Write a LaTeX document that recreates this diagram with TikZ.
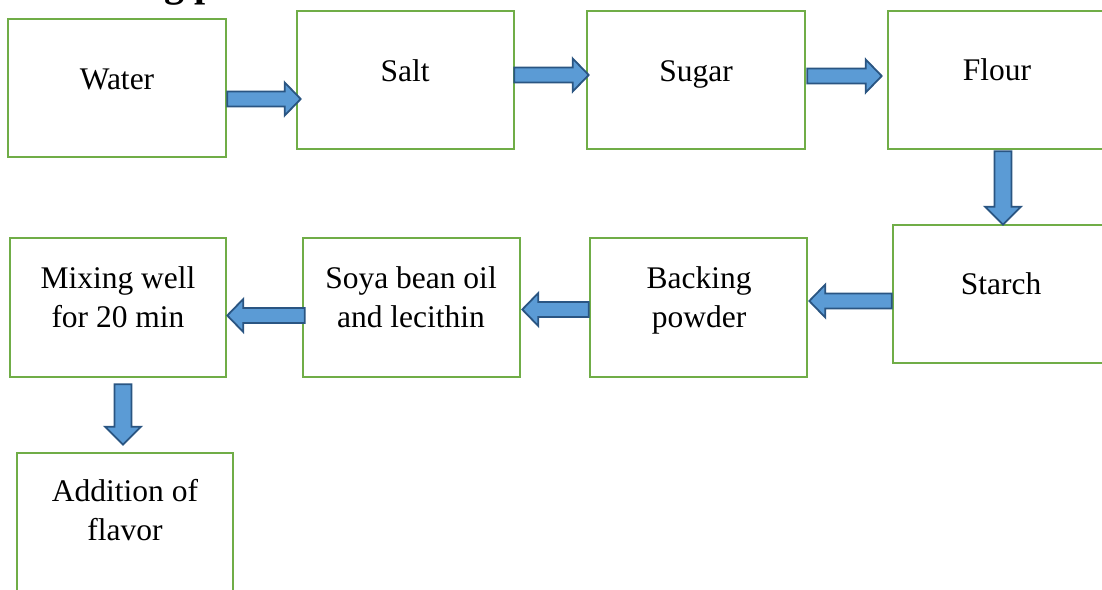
\documentclass[tikz,border=0pt]{standalone}
\usepackage{fontspec}
\setmainfont{Liberation Serif}
\usetikzlibrary{calc}
\definecolor{boxgreen}{HTML}{70AD47}
\definecolor{arrfill}{HTML}{5B9BD5}
\definecolor{arredge}{HTML}{2A5582}
\tikzset{
  box/.style={draw=boxgreen, line width=2.6pt, rectangle, inner sep=0pt, fill=white},
  lbl/.style={font=\fontsize{31.5}{39}\selectfont, align=center, anchor=base, inner sep=0pt},
  barrow/.style={draw=arredge, fill=arrfill, line width=1.8pt, line join=miter},
  ttl/.style={font=\bfseries\fontsize{40}{48}\selectfont, anchor=base west, inner sep=0pt}
}
\newcommand\blockR[2]{\draw[barrow] ($(#1)+(0,-7.5)$) -- ($(#2)+(-16,-7.5)$) -- ($(#2)+(-16,-16.5)$) -- (#2) -- ($(#2)+(-16,16.5)$) -- ($(#2)+(-16,7.5)$) -- ($(#1)+(0,7.5)$) -- cycle;}
\newcommand\blockL[2]{\draw[barrow] ($(#1)+(0,-7.5)$) -- ($(#2)+(16,-7.5)$) -- ($(#2)+(16,-16.5)$) -- (#2) -- ($(#2)+(16,16.5)$) -- ($(#2)+(16,7.5)$) -- ($(#1)+(0,7.5)$) -- cycle;}
\newcommand\blockD[2]{\draw[barrow] ($(#1)+(-8.5,0)$) -- ($(#2)+(-8.5,-18)$) -- ($(#2)+(-18,-18)$) -- (#2) -- ($(#2)+(18,-18)$) -- ($(#2)+(8.5,-18)$) -- ($(#1)+(8.5,0)$) -- cycle;}
\begin{document}
\begin{tikzpicture}[x=1pt,y=-1pt]
\useasboundingbox (0,0) rectangle (1102,589);
\clip (0,0) rectangle (1102,589);
\fill[white] (0,0) rectangle (1102,589);
% title (cut off at the top)
\node[ttl] (title) at (8,-4) {3. Making procedure:};
% boxes
\node[box, minimum width=218pt, minimum height=138pt] (water) at (117,88) {};
\node[box, minimum width=217pt, minimum height=138pt] (salt) at (405.5,80) {};
\node[box, minimum width=218pt, minimum height=138pt] (sugar) at (696,80) {};
\node[box, minimum width=218pt, minimum height=138pt] (flour) at (997,80) {};
\node[box, minimum width=218pt, minimum height=138pt] (starch) at (1002,294) {};
\node[box, minimum width=217pt, minimum height=139pt] (backing) at (698.5,307.5) {};
\node[box, minimum width=217pt, minimum height=139pt] (soya) at (411.5,307.5) {};
\node[box, minimum width=216pt, minimum height=139pt] (mixing) at (118,307.5) {};
\node[box, minimum width=216pt, minimum height=138pt] (addition) at (125,522) {};
% labels (base = baseline of the last line)
\node[lbl] (twater) at (117,89) {Water};
\node[lbl] (tsalt) at (405,81) {Salt};
\node[lbl] (tsugar) at (696,81) {Sugar};
\node[lbl] (tflour) at (997,80) {Flour};
\node[lbl] (tstarch) at (1001,294) {Starch};
\node[lbl] (tbacking) at (699,327) {Backing\\powder};
\node[lbl] (tsoya) at (411,327) {Soya bean oil\\and lecithin};
\node[lbl] (tmixing) at (118,327) {Mixing well\\for 20 min};
\node[lbl] (taddition) at (125,540) {Addition of\\flavor};
% arrow end points
\coordinate (a1s) at ($(water.east)+(0,11)$);
\coordinate (a1e) at ($(water.east -| salt.west)+(5,11)$);
\coordinate (a2s) at ($(salt.east)+(-1,-5)$);
\coordinate (a2e) at ($(salt.east -| sugar.west)+(3,-5)$);
\coordinate (a3s) at ($(sugar.east)+(1,-4)$);
\coordinate (a3e) at ($(sugar.east -| flour.west)+(-5,-4)$);
\coordinate (a4s) at ($(flour.south -| 1003,0)+(0,1)$);
\coordinate (a4e) at ($(1003,0 |- starch.north)+(0,1)$);
\coordinate (a5s) at ($(starch.west)+(0,7)$);
\coordinate (a5e) at ($(starch.west -| backing.east)+(1,7)$);
\coordinate (a6s) at ($(backing.west)+(0,2)$);
\coordinate (a6e) at ($(backing.west -| soya.east)+(1,2)$);
\coordinate (a7s) at ($(soya.west)+(3,8)$);
\coordinate (a7e) at ($(soya.west -| mixing.east)+(0,8)$);
\coordinate (a8s) at ($(mixing.south -| 123,0)+(0,6)$);
\coordinate (a8e) at ($(123,0 |- addition.north)+(0,-7)$);
% arrows
\blockR{a1s}{a1e}
\blockR{a2s}{a2e}
\blockR{a3s}{a3e}
\blockD{a4s}{a4e}
\blockL{a5s}{a5e}
\blockL{a6s}{a6e}
\blockL{a7s}{a7e}
\blockD{a8s}{a8e}
\end{tikzpicture}
\end{document}
